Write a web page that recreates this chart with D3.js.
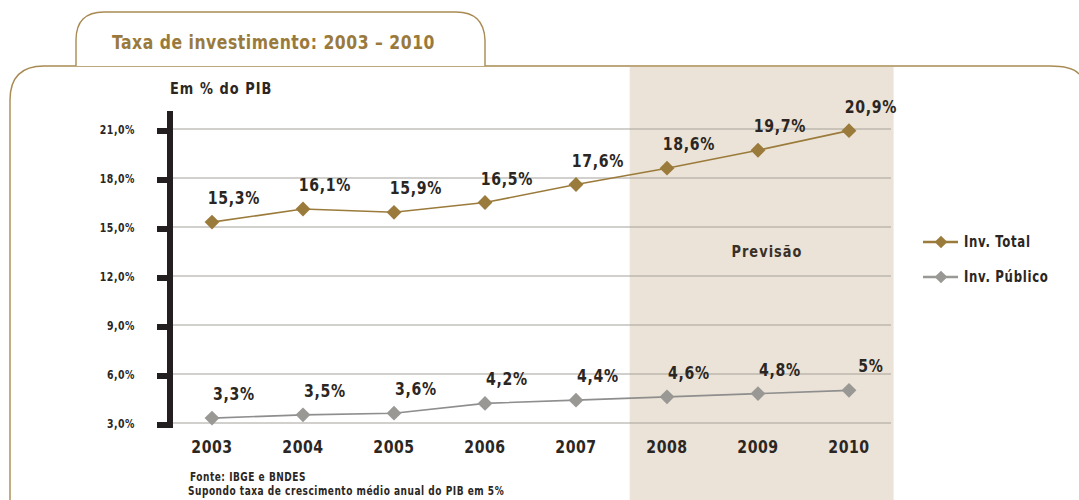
<!DOCTYPE html>
<html><head><meta charset="utf-8">
<script src="https://cdn.jsdelivr.net/npm/d3@7"></script>
<style>
body{margin:0;background:#fff;}
svg text{font-family:"DejaVu Sans Condensed","Liberation Sans Narrow",sans-serif;font-weight:bold;}
</style></head>
<body>
<svg id="c" width="1079" height="500"></svg>
<script>
const years = ["2003","2004","2005","2006","2007","2008","2009","2010"];
const invTotal = [15.3,16.1,15.9,16.5,17.6,18.6,19.7,20.9];
const invPublico = [3.3,3.5,3.6,4.2,4.4,4.6,4.8,5.0];
const totalLabels = ["15,3%","16,1%","15,9%","16,5%","17,6%","18,6%","19,7%","20,9%"];
const publicoLabels = ["3,3%","3,5%","3,6%","4,2%","4,4%","4,6%","4,8%","5%"];
const yTicks = [3,6,9,12,15,18,21];
const forecastYears = ["2008","2009","2010"];
const seriesNames = ["Inv. Total","Inv. Público"];

const gold = "#9b7b3b", dark = "#2b2622";
const svg = d3.select("#c");

const border = "#a88a52";
svg.append("path").attr("fill","none").attr("stroke",border).attr("stroke-width",1.4)
  .attr("d","M10,500 L10,100 Q10,66 44,66 L1050,66 Q1072,66 1079,74");
svg.append("path").attr("fill","#fff").attr("stroke",border).attr("stroke-width",1.4)
  .attr("d","M76,66 L76,40 Q76,12 104,12 L456,12 Q484,12 485,40 L485,66");

svg.append("text").attr("x",112).attr("y",49).attr("fill","#9a7a3c")
  .attr("font-size",20).attr("letter-spacing",0.6).text("Taxa de investimento: 2003 – 2010");

const x = d3.scalePoint().domain(years).range([212,849]);
const y = d3.scaleLinear().domain([3,21]).range([423,129]);
const step = x.step();

const sx0 = x(forecastYears[0]) - step*0.41;
const sx1 = x(forecastYears[forecastYears.length-1]) + step*0.49;
svg.append("rect").attr("x", sx0).attr("y", 67).attr("width", sx1 - sx0).attr("height", 433).attr("fill","#ebe3d7");

svg.append("g").selectAll("line").data(yTicks).join("line")
  .attr("x1",173).attr("x2",891).attr("y1",d=>y(d)).attr("y2",d=>y(d))
  .attr("stroke","#a6a29c").attr("stroke-width",1.2);

svg.append("rect").attr("x",167).attr("y",111).attr("width",6).attr("height",317).attr("fill","#231f20");
svg.append("g").selectAll("rect").data(yTicks).join("rect")
  .attr("x",157).attr("y",d=>y(d)-1).attr("width",12).attr("height",6).attr("fill","#231f20");

const fmt = d => d3.format(".1f")(d).replace(".",",") + "%";
svg.append("g").selectAll("text").data(yTicks).join("text")
  .attr("x",135).attr("y",d=>y(d)+1).attr("text-anchor","end").attr("dominant-baseline","middle")
  .attr("font-size",12).attr("fill",dark).attr("letter-spacing",0.6).text(fmt);

svg.append("text").attr("x",170).attr("y",94).attr("font-size",16.5).attr("fill",dark)
  .attr("letter-spacing",1.2).text("Em % do PIB");

svg.append("g").selectAll("text").data(years).join("text")
  .attr("x",d=>x(d)).attr("y",453).attr("text-anchor","middle")
  .attr("font-size",18).attr("fill",dark).attr("letter-spacing",0.6).text(d=>d);

svg.append("text").attr("x",x("2009")+9).attr("y",257).attr("text-anchor","middle")
  .attr("font-size",16.5).attr("fill","#3a3028").attr("letter-spacing",1.2).text("Previsão");

function series(vals, labels, color, lineColor){
  const g = svg.append("g");
  g.append("path").datum(vals).attr("fill","none").attr("stroke",lineColor).attr("stroke-width",1.6)
    .attr("d", d3.line().x((d,i)=>x(years[i])).y(d=>y(d)));
  g.selectAll("path.m").data(vals).join("path").attr("class","m")
    .attr("transform",(d,i)=>`translate(${x(years[i])},${y(d)}) rotate(45)`)
    .attr("d", d3.symbol().type(d3.symbolSquare).size(110)).attr("fill",color);
  g.selectAll("text").data(vals).join("text")
    .attr("x",(d,i)=>x(years[i])+22).attr("y",d=>y(d)-18)
    .attr("text-anchor","middle").attr("font-size",18).attr("fill",dark).attr("letter-spacing",0.8)
    .text((d,i)=>labels[i]);
}
series(invTotal, totalLabels, gold, gold);
series(invPublico, publicoLabels, "#999894", "#8e8e8e");

const leg = svg.append("g");
[[gold,242],["#999894",277]].forEach(([c,ly],i)=>{
  leg.append("line").attr("x1",923).attr("x2",958).attr("y1",ly).attr("y2",ly).attr("stroke",c).attr("stroke-width",2.4);
  leg.append("path").attr("transform",`translate(941,${ly}) rotate(45)`)
    .attr("d", d3.symbol().type(d3.symbolSquare).size(80)).attr("fill",c);
  leg.append("text").attr("x",964).attr("y",ly+5).attr("font-size",15).attr("fill",dark)
    .attr("letter-spacing",0.8).text(seriesNames[i]);
});

svg.append("text").attr("x",190).attr("y",481).attr("font-size",11.5).attr("fill",dark).attr("letter-spacing",0.6).text("Fonte: IBGE e BNDES");
svg.append("text").attr("x",188).attr("y",495).attr("font-size",11.5).attr("fill",dark).attr("letter-spacing",0.6).text("Supondo taxa de crescimento médio anual do PIB em 5%");

// condense all text horizontally to mimic the narrow typeface
svg.selectAll("text").each(function(){
  const w = this.getComputedTextLength();
  this.setAttribute("textLength", (w*0.87).toFixed(1));
  this.setAttribute("lengthAdjust","spacingAndGlyphs");
});
</script>
</body></html>
